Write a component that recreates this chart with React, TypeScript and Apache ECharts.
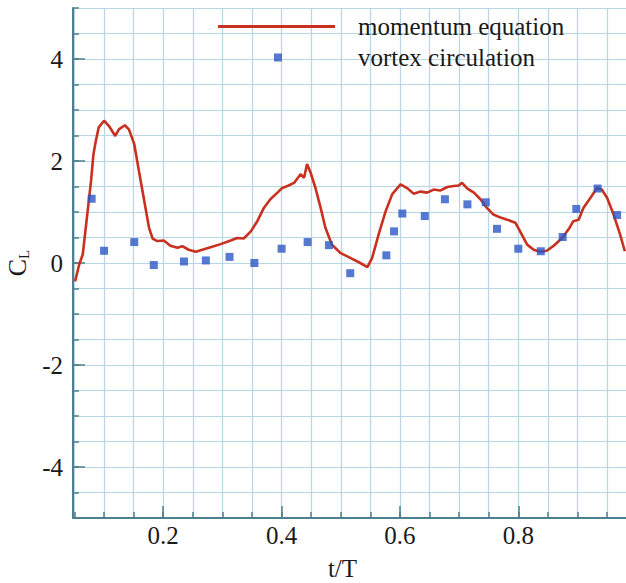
import React, { useEffect, useRef } from "react";
import * as echarts from "echarts";

const momentumT = [0.051, 0.058, 0.064, 0.071, 0.078, 0.082, 0.086, 0.091, 0.1, 0.108, 0.119, 0.125, 0.135, 0.142, 0.151, 0.159, 0.168, 0.176, 0.182, 0.19, 0.201, 0.212, 0.224, 0.232, 0.243, 0.255, 0.266, 0.28, 0.297, 0.314, 0.325, 0.336, 0.348, 0.359, 0.37, 0.381, 0.393, 0.401, 0.41, 0.421, 0.432, 0.438, 0.443, 0.449, 0.457, 0.466, 0.474, 0.485, 0.499, 0.516, 0.533, 0.545, 0.553, 0.564, 0.576, 0.587, 0.601, 0.612, 0.623, 0.635, 0.646, 0.657, 0.668, 0.68, 0.691, 0.699, 0.705, 0.714, 0.725, 0.736, 0.747, 0.758, 0.77, 0.781, 0.795, 0.803, 0.815, 0.826, 0.837, 0.848, 0.859, 0.874, 0.885, 0.893, 0.902, 0.91, 0.922, 0.933, 0.941, 0.95, 0.961, 0.972, 0.98];
const momentumCL = [-0.36, -0.03, 0.17, 0.89, 1.61, 2.13, 2.39, 2.66, 2.79, 2.69, 2.49, 2.62, 2.7, 2.62, 2.33, 1.8, 1.21, 0.69, 0.48, 0.43, 0.44, 0.34, 0.3, 0.33, 0.26, 0.22, 0.26, 0.31, 0.37, 0.44, 0.49, 0.48, 0.62, 0.82, 1.08, 1.25, 1.38, 1.47, 1.51, 1.57, 1.74, 1.67, 1.94, 1.77, 1.48, 1.08, 0.69, 0.36, 0.2, 0.1, 0.0, -0.08, 0.1, 0.56, 1.02, 1.35, 1.54, 1.47, 1.36, 1.4, 1.38, 1.44, 1.42, 1.49, 1.51, 1.52, 1.57, 1.46, 1.38, 1.25, 1.08, 0.95, 0.89, 0.85, 0.79, 0.62, 0.36, 0.26, 0.22, 0.24, 0.33, 0.49, 0.66, 0.82, 0.85, 1.08, 1.28, 1.47, 1.44, 1.28, 0.95, 0.56, 0.23];

const vortexT = [0.079, 0.1, 0.151, 0.184, 0.235, 0.272, 0.312, 0.354, 0.4, 0.444, 0.48, 0.516, 0.577, 0.59, 0.604, 0.642, 0.676, 0.714, 0.745, 0.764, 0.8, 0.838, 0.875, 0.898, 0.934, 0.967];
const vortexCL = [1.26, 0.24, 0.41, -0.04, 0.03, 0.05, 0.12, 0.0, 0.28, 0.41, 0.35, -0.2, 0.15, 0.62, 0.97, 0.92, 1.25, 1.15, 1.19, 0.67, 0.28, 0.23, 0.51, 1.06, 1.46, 0.94];

const xMinorTicks = [0.05, 0.1, 0.15, 0.2, 0.25, 0.3, 0.35, 0.4, 0.45, 0.5, 0.55, 0.6, 0.65, 0.7, 0.75, 0.8, 0.85, 0.9, 0.95];
const xMajorTicks = [0.2, 0.4, 0.6, 0.8];
const yMajorTicks = [-4, -2, 0, 2, 4];

const X_MIN = 0.0475;
const X_MAX = 0.982;
const Y_MIN = -5;
const Y_MAX = 5;

const FONT = "'Liberation Serif', 'DejaVu Serif', serif";
const AXIS_COLOR = "#4d7f8e";
const GRID_COLOR = "#b8d6e6";

export default function App() {
  const ref = useRef<HTMLDivElement>(null);
  useEffect(() => {
    if (!ref.current) return;
    const chart = echarts.init(ref.current, undefined, { renderer: "svg" });
    const gridRect = { left: 73, right: 0, top: 8, bottom: 65, containLabel: false, outerBoundsMode: "none" };
    chart.setOption({
      animation: false,
      backgroundColor: "#ffffff",
      grid: [{ ...gridRect }, { ...gridRect }],
      legend: [
        {
          data: [{ name: "momentum equation", icon: "rect" }],
          left: 218,
          top: 14,
          padding: 0,
          itemWidth: 117,
          itemHeight: 3,
          textStyle: { fontFamily: FONT, fontSize: 25, color: "#1a1a1a", padding: [0, 0, 0, 18] },
          selectedMode: false,
        },
        {
          data: [{ name: "vortex circulation", icon: "rect" }],
          left: 274,
          top: 45,
          padding: 0,
          itemWidth: 8,
          itemHeight: 8,
          textStyle: { fontFamily: FONT, fontSize: 25, color: "#1a1a1a", padding: [0, 0, 0, 71] },
          selectedMode: false,
        },
      ],
      xAxis: [
        {
          type: "value",
          gridIndex: 0,
          min: X_MIN,
          max: X_MAX,
          position: "bottom",
          name: "t/T",
          nameLocation: "middle",
          nameGap: 38,
          nameTextStyle: { fontFamily: FONT, fontSize: 25, color: "#1a1a1a", padding: [0, 14, 0, 0] },
          axisLine: { show: true, onZero: false, lineStyle: { color: AXIS_COLOR, width: 2 } },
          axisTick: { show: true, inside: true, length: 6, customValues: xMinorTicks, lineStyle: { color: AXIS_COLOR, width: 1.5 } },
          axisLabel: { customValues: xMajorTicks, margin: 5, fontFamily: FONT, fontSize: 25, color: "#1a1a1a", formatter: (v: number) => v.toFixed(1) },
          splitLine: { show: true, lineStyle: { color: GRID_COLOR, width: 1.2 } },
        },
        {
          type: "value",
          gridIndex: 1,
          min: X_MIN,
          max: X_MAX,
          position: "bottom",
          axisLine: { show: false, onZero: false },
          axisTick: { show: true, inside: true, length: 12, customValues: xMajorTicks, lineStyle: { color: AXIS_COLOR, width: 1.5 } },
          axisLabel: { show: false },
          splitLine: { show: false },
        },
      ],
      yAxis: [
        {
          type: "value",
          gridIndex: 0,
          min: Y_MIN,
          max: Y_MAX,
          interval: 0.5,
          position: "left",
          name: "{c|C}{l|L}",
          nameLocation: "middle",
          nameGap: 40,
          nameRotate: 90,
          nameTextStyle: {
            fontFamily: FONT,
            color: "#1a1a1a",
            rich: {
              c: { fontFamily: FONT, fontSize: 26, color: "#1a1a1a" },
              l: { fontFamily: FONT, fontSize: 15, color: "#1a1a1a", padding: [12, 0, 0, 0] },
            },
          },
          axisLine: { show: true, onZero: false, lineStyle: { color: AXIS_COLOR, width: 2 } },
          axisTick: { show: true, inside: true, length: 6, lineStyle: { color: AXIS_COLOR, width: 1.5 } },
          axisLabel: {
            margin: 10,
            fontFamily: FONT,
            fontSize: 25,
            color: "#1a1a1a",
            formatter: (v: number) => (yMajorTicks.indexOf(v) >= 0 ? String(v) : ""),
          },
          splitLine: { show: true, lineStyle: { color: GRID_COLOR, width: 1.2 } },
        },
        {
          type: "value",
          gridIndex: 1,
          min: Y_MIN,
          max: Y_MAX,
          position: "left",
          axisLine: { show: false, onZero: false },
          axisTick: { show: true, inside: true, length: 12, customValues: yMajorTicks, lineStyle: { color: AXIS_COLOR, width: 1.5 } },
          axisLabel: { show: false },
          splitLine: { show: false },
        },
      ],
      series: [
        {
          name: "momentum equation",
          type: "line",
          xAxisIndex: 0,
          yAxisIndex: 0,
          data: momentumT.map((t, i) => [t, momentumCL[i]]),
          showSymbol: false,
          symbol: "none",
          lineStyle: { color: "#c8301f", width: 2.6 },
          itemStyle: { color: "#c8301f" },
          z: 3,
        },
        {
          name: "vortex circulation",
          type: "scatter",
          xAxisIndex: 0,
          yAxisIndex: 0,
          data: vortexT.map((t, i) => [t, vortexCL[i]]),
          symbol: "rect",
          symbolSize: 8,
          itemStyle: { color: "#2a56c4" },
          z: 4,
        },
      ],
    });
    return () => chart.dispose();
  }, []);
  return <div ref={ref} style={{ width: 626, height: 583, position: "absolute", left: 0, top: 0 }} />;
}
